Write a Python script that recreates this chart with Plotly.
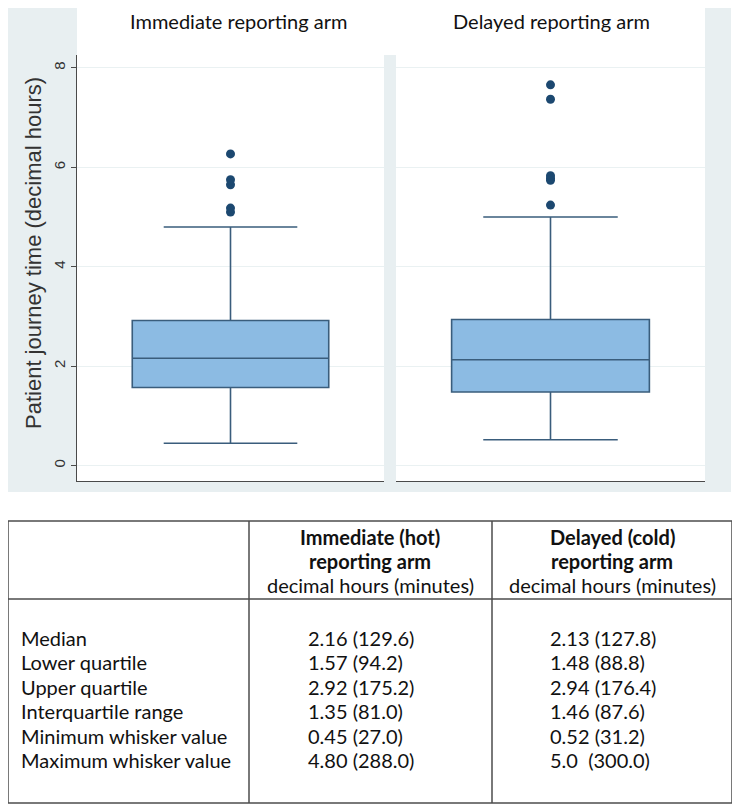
import plotly.graph_objects as go

# ---------------- data ----------------
arms = ["Immediate reporting arm", "Delayed reporting arm"]
q1 = [1.57, 1.48]
median = [2.16, 2.13]
q3 = [2.92, 2.94]
lower_whisker = [0.45, 0.52]
upper_whisker = [4.80, 5.0]
outliers_immediate = [5.10, 5.18, 5.65, 5.75, 6.27]
outliers_delayed = [5.24, 5.74, 5.78, 5.83, 7.37, 7.66]
y_ticks = [0, 2, 4, 6, 8]
y_title = "Patient journey time (decimal hours)"

header_immediate = ["Immediate (hot)", "reporting arm", "decimal hours (minutes)"]
header_delayed = ["Delayed (cold)", "reporting arm", "decimal hours (minutes)"]
row_labels = ["Median", "Lower quartile", "Upper quartile", "Interquartile range",
              "Minimum whisker value", "Maximum whisker value"]
immediate_values = ["2.16 (129.6)", "1.57 (94.2)", "2.92 (175.2)", "1.35 (81.0)",
                    "0.45 (27.0)", "4.80 (288.0)"]
delayed_values = ["2.13 (127.8)", "1.48 (88.8)", "2.94 (176.4)", "1.46 (87.6)",
                  "0.52 (31.2)", "5.0  (300.0)"]

# ---------------- layout helpers ----------------
W, H = 740, 810
OFF = 8  # page body margin
def px(x):
    return (x - OFF) / W
def py(y):
    return 1 - (y - OFF) / H

BOX_FILL = "#8cbbe3"
BOX_LINE = "#3a5d7c"
DOT = "#1c4870"
GRAY = "#e8eff1"
TXT_FONT = "Lato"
AX_FONT = "Liberation Sans"

fig = go.Figure()

outliers = [outliers_immediate, outliers_delayed]
for i in range(2):
    xa = "x" if i == 0 else "x2"
    ya = "y" if i == 0 else "y2"
    fig.add_trace(go.Box(
        x=[0], q1=[q1[i]], median=[median[i]], q3=[q3[i]],
        lowerfence=[lower_whisker[i]], upperfence=[upper_whisker[i]],
        width=0.64, whiskerwidth=0.68,
        fillcolor=BOX_FILL, line=dict(color=BOX_LINE, width=1.6),
        boxpoints=False, hoverinfo="skip", showlegend=False,
        xaxis=xa, yaxis=ya, name=arms[i]))
    fig.add_trace(go.Scatter(
        x=[0] * len(outliers[i]), y=outliers[i], mode="markers",
        marker=dict(color=DOT, size=9), showlegend=False,
        xaxis=xa, yaxis=ya))

yrange = [-0.31, 8.26]
common_x = dict(range=[-0.5, 0.5], showgrid=False, zeroline=False,
                showticklabels=False, ticks="", showline=True,
                linecolor="#4a4a4a", linewidth=1.3, fixedrange=True)
fig.update_layout(
    width=W, height=H, margin=dict(l=0, r=0, t=0, b=0),
    paper_bgcolor="white", plot_bgcolor="white",
    xaxis=dict(domain=[px(77), px(384)], anchor="y", **common_x),
    xaxis2=dict(domain=[px(396), px(705)], anchor="y2", **common_x),
    yaxis=dict(domain=[py(481), py(55)], range=yrange, anchor="x",
               tickvals=y_ticks, ticktext=[str(v) for v in y_ticks],
               tickangle=-90, ticks="outside", ticklen=5, tickcolor="#4a4a4a",
               tickfont=dict(family=AX_FONT, size=15, color="#333"),
               showline=True, linecolor="#4a4a4a", linewidth=1.3,
               showgrid=True, gridcolor="#eaf1f2", gridwidth=1.2,
               zeroline=False, fixedrange=True),
    yaxis2=dict(domain=[py(481), py(55)], range=yrange, anchor="x2",
                tickvals=y_ticks, showticklabels=False, ticks="",
                showline=False, showgrid=True, gridcolor="#eaf1f2", gridwidth=1.2,
                zeroline=False, fixedrange=True),
)

shapes = []
# gray background frame
shapes.append(dict(type="rect", xref="paper", yref="paper", layer="below",
                   x0=px(0), x1=px(731), y0=py(492), y1=py(0),
                   fillcolor=GRAY, line=dict(width=0)))
# white title area and plot areas
for (x0, x1, y0, y1) in [(77, 705, 0, 55), (77, 384, 55, 481), (396, 705, 55, 481)]:
    shapes.append(dict(type="rect", xref="paper", yref="paper", layer="below",
                       x0=px(x0), x1=px(x1), y0=py(y1), y1=py(y0),
                       fillcolor="white", line=dict(width=0)))
# table lines
tl = dict(color="#4d4d4d", width=1.5)
shapes.append(dict(type="rect", xref="paper", yref="paper",
                   x0=px(8), x1=px(732), y0=py(803), y1=py(521), line=tl))
shapes.append(dict(type="line", xref="paper", yref="paper",
                   x0=px(8), x1=px(732), y0=py(599), y1=py(599), line=tl))
for xv in [249, 492]:
    shapes.append(dict(type="line", xref="paper", yref="paper",
                       x0=px(xv), x1=px(xv), y0=py(803), y1=py(521), line=tl))
fig.update_layout(shapes=shapes)

ann = []
# panel titles
for name, xc in zip(arms, [238, 551]):
    ann.append(dict(text=name, x=px(xc), y=py(21), xref="paper", yref="paper",
                    showarrow=False, xanchor="center", yanchor="middle",
                    font=dict(family=TXT_FONT, size=20, color="#111")))
# y-axis title
ann.append(dict(text=y_title, x=px(33), y=py(253), xref="paper", yref="paper",
                showarrow=False, textangle=-90, xanchor="center", yanchor="middle",
                font=dict(family=AX_FONT, size=22, color="#333")))
# table header
hdr_y = [537, 561, 585]
for hdr, xc in [(header_immediate, 370), (header_delayed, 612)]:
    for j, t in enumerate(hdr):
        txt = f"<b>{t}</b>" if j < 2 else t
        ann.append(dict(text=txt, x=px(xc), y=py(hdr_y[j]), xref="paper", yref="paper",
                        showarrow=False, xanchor="center", yanchor="middle",
                        font=dict(family=TXT_FONT, size=20, color="#111")))
# table rows
row_y0, row_dy = 638, 24.4
for k in range(len(row_labels)):
    yy = py(row_y0 + k * row_dy)
    for txt, xl in [(row_labels[k], 19), (immediate_values[k], 306), (delayed_values[k], 548)]:
        ann.append(dict(text=txt, x=px(xl), y=yy, xref="paper", yref="paper",
                        showarrow=False, xanchor="left", yanchor="middle",
                        font=dict(family=TXT_FONT, size=20, color="#111")))
fig.update_layout(annotations=ann)

fig.write_html("out.html")
